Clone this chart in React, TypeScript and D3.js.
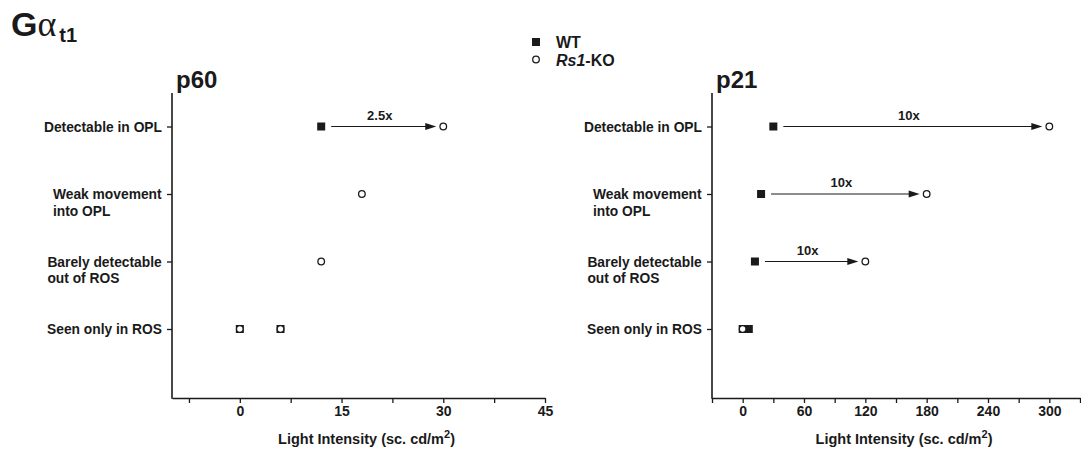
import React, { useRef, useEffect } from 'react';
import * as d3 from 'd3';

// categories (y axis), top to bottom
const categories = ['Detectable in OPL', 'Weak movement into OPL', 'Barely detectable out of ROS', 'Seen only in ROS'];
const categoryLines = [['Detectable in OPL'], ['Weak movement', 'into OPL'], ['Barely detectable', 'out of ROS'], ['Seen only in ROS']];

// p60 panel
const p60Wt = [
  { cat: 'Detectable in OPL', x: 12 },
  { cat: 'Seen only in ROS', x: 0 },
  { cat: 'Seen only in ROS', x: 6 },
];
const p60Ko = [
  { cat: 'Detectable in OPL', x: 30 },
  { cat: 'Weak movement into OPL', x: 18 },
  { cat: 'Barely detectable out of ROS', x: 12 },
  { cat: 'Seen only in ROS', x: 0 },
  { cat: 'Seen only in ROS', x: 6 },
];
const p60Arrows = [{ cat: 'Detectable in OPL', from: 12, to: 30, label: '2.5x' }];
const p60Major = [0, 15, 30, 45];
const p60Minor = [-7.5, 7.5, 22.5, 37.5];

// p21 panel
const p21Wt = [
  { cat: 'Detectable in OPL', x: 30 },
  { cat: 'Weak movement into OPL', x: 18 },
  { cat: 'Barely detectable out of ROS', x: 12 },
  { cat: 'Seen only in ROS', x: 0 },
  { cat: 'Seen only in ROS', x: 6 },
];
const p21Ko = [
  { cat: 'Detectable in OPL', x: 300 },
  { cat: 'Weak movement into OPL', x: 180 },
  { cat: 'Barely detectable out of ROS', x: 120 },
  { cat: 'Seen only in ROS', x: 0 },
];
const p21Arrows = [
  { cat: 'Detectable in OPL', from: 30, to: 300, label: '10x' },
  { cat: 'Weak movement into OPL', from: 18, to: 180, label: '10x' },
  { cat: 'Barely detectable out of ROS', from: 12, to: 120, label: '10x' },
];
const p21Major = [0, 60, 120, 180, 240, 300];
const p21Minor = [-30, 30, 90, 150, 210, 270, 330];

const FONT = '"Liberation Sans", Arial, Helvetica, sans-serif';
const INK = '#1a1a1a';

const App = () => {
  const ref = useRef<SVGSVGElement>(null);

  useEffect(() => {
    draw();
  }, []);

  const drawPanel = (svg, o) => {
    const top = 93;
    const bottom = 398;
    const g = svg.append('g');

    const x = d3.scaleLinear().domain(o.domain).range(o.range);
    const y = d3.scalePoint().domain(categories).range([126.5, 329]);

    // x axis
    const xAxis = d3.axisBottom(x)
      .tickValues([...o.minor, ...o.major])
      .tickSize(5)
      .tickSizeOuter(0)
      .tickFormat(d => (o.major.includes(+d) ? String(d) : ''));
    const xg = g.append('g')
      .attr('transform', `translate(0, ${bottom})`)
      .call(xAxis);
    xg.select('.domain').attr('stroke', INK).attr('stroke-width', 1.6);
    xg.selectAll('.tick line').attr('stroke', INK).attr('stroke-width', 1.3);
    xg.selectAll('.tick text')
      .attr('fill', INK)
      .attr('font-family', FONT)
      .attr('font-weight', 'bold')
      .attr('font-size', 14);

    // y axis
    g.append('line')
      .attr('x1', o.range[0]).attr('x2', o.range[0])
      .attr('y1', top).attr('y2', bottom + 0.8)
      .attr('stroke', INK).attr('stroke-width', 1.6);
    const yAxis = d3.axisLeft(y).tickSize(5).tickFormat(() => '');
    const yg = g.append('g')
      .attr('transform', `translate(${o.range[0]}, 0)`)
      .call(yAxis);
    yg.select('.domain').remove();
    yg.selectAll('.tick line').attr('stroke', INK).attr('stroke-width', 1.3);

    // category labels, left aligned block ending near tick
    categories.forEach((c, i) => {
      const t = g.append('text')
        .attr('font-family', FONT)
        .attr('font-weight', 'bold')
        .attr('font-size', 13.8)
        .attr('fill', INK);
      categoryLines[i].forEach((line, j) => {
        t.append('tspan').attr('x', 0).attr('y', y(c) + 5 + j * 16.5).text(line);
      });
      const w = (t.node() as SVGTextElement).getBBox().width;
      t.attr('transform', `translate(${o.range[0] - 10 - w}, 0)`);
    });

    // panel label
    g.append('text')
      .attr('x', o.range[0] + 4)
      .attr('y', 88)
      .attr('font-family', FONT)
      .attr('font-weight', 'bold')
      .attr('font-size', 24)
      .attr('fill', INK)
      .text(o.label);

    // axis title
    const title = g.append('text')
      .attr('x', (o.range[0] + o.range[1]) / 2 + 8)
      .attr('y', 444)
      .attr('text-anchor', 'middle')
      .attr('font-family', FONT)
      .attr('font-weight', 'bold')
      .attr('font-size', 14.5)
      .attr('fill', INK);
    title.append('tspan').text('Light Intensity (sc. cd/m');
    title.append('tspan').attr('dy', -6).attr('font-size', 11).text('2');
    title.append('tspan').attr('dy', 6).text(')');

    // arrows
    o.arrows.forEach(a => {
      const x0 = x(a.from) + 10;
      const x1 = x(a.to) - 7;
      const yy = y(a.cat);
      g.append('line')
        .attr('x1', x0).attr('x2', x1 - 8)
        .attr('y1', yy).attr('y2', yy)
        .attr('stroke', INK).attr('stroke-width', 1.2);
      g.append('path')
        .attr('d', `M${x1},${yy} L${x1 - 11},${yy - 3.6} L${x1 - 11},${yy + 3.6} Z`)
        .attr('fill', INK);
      g.append('text')
        .attr('x', (x0 + x1) / 2 - 4)
        .attr('y', yy - 7)
        .attr('text-anchor', 'middle')
        .attr('font-family', FONT)
        .attr('font-weight', 'bold')
        .attr('font-size', 13)
        .attr('fill', INK)
        .text(a.label);
    });

    // WT squares
    g.selectAll('rect.wt')
      .data(o.wt)
      .enter().append('rect')
      .attr('class', 'wt')
      .attr('x', d => x(d.x) - 4)
      .attr('y', d => y(d.cat) - 4)
      .attr('width', 8)
      .attr('height', 8)
      .attr('fill', INK);

    // KO circles
    g.selectAll('circle.ko')
      .data(o.ko)
      .enter().append('circle')
      .attr('class', 'ko')
      .attr('cx', d => x(d.x))
      .attr('cy', d => y(d.cat))
      .attr('r', 3.3)
      .attr('fill', '#fff')
      .attr('stroke', INK)
      .attr('stroke-width', 1.3);
  };

  const draw = () => {
    const svg = d3.select(ref.current);
    svg.selectAll('*').remove();

    // title
    const t = svg.append('text')
      .attr('x', 11)
      .attr('y', 36)
      .attr('fill', INK);
    t.append('tspan')
      .attr('font-family', FONT)
      .attr('font-weight', 'bold')
      .attr('font-size', 34)
      .text('G');
    t.append('tspan')
      .attr('font-family', '"Liberation Serif", "DejaVu Serif", serif')
      .attr('font-size', 36)
      .text('α');
    t.append('tspan')
      .attr('dx', 3)
      .attr('dy', 6)
      .attr('font-family', FONT)
      .attr('font-weight', 'bold')
      .attr('font-size', 20)
      .text('t1');

    // legend
    svg.append('rect')
      .attr('x', 532).attr('y', 38).attr('width', 8).attr('height', 8)
      .attr('fill', INK);
    svg.append('circle')
      .attr('cx', 536).attr('cy', 59.5).attr('r', 3.3)
      .attr('fill', '#fff').attr('stroke', INK).attr('stroke-width', 1.3);
    svg.append('text')
      .attr('x', 556).attr('y', 48)
      .attr('font-family', FONT).attr('font-weight', 'bold').attr('font-size', 16)
      .attr('fill', INK)
      .text('WT');
    const lk = svg.append('text')
      .attr('x', 556).attr('y', 65.5)
      .attr('font-family', FONT).attr('font-weight', 'bold').attr('font-size', 16)
      .attr('fill', INK);
    lk.append('tspan').attr('font-style', 'italic').text('Rs1');
    lk.append('tspan').text('-KO');

    drawPanel(svg, {
      label: 'p60',
      domain: [-10, 45],
      range: [172, 545],
      major: p60Major,
      minor: p60Minor,
      wt: p60Wt,
      ko: p60Ko,
      arrows: p60Arrows,
    });

    drawPanel(svg, {
      label: 'p21',
      domain: [-30, 330],
      range: [712, 1080],
      major: p21Major,
      minor: p21Minor,
      wt: p21Wt,
      ko: p21Ko,
      arrows: p21Arrows,
    });
  };

  return (
    <svg
      ref={ref}
      width={1081}
      height={449}
      style={{ position: 'absolute', left: 0, top: 0, background: '#fff' }}
    />
  );
};

export default App;
